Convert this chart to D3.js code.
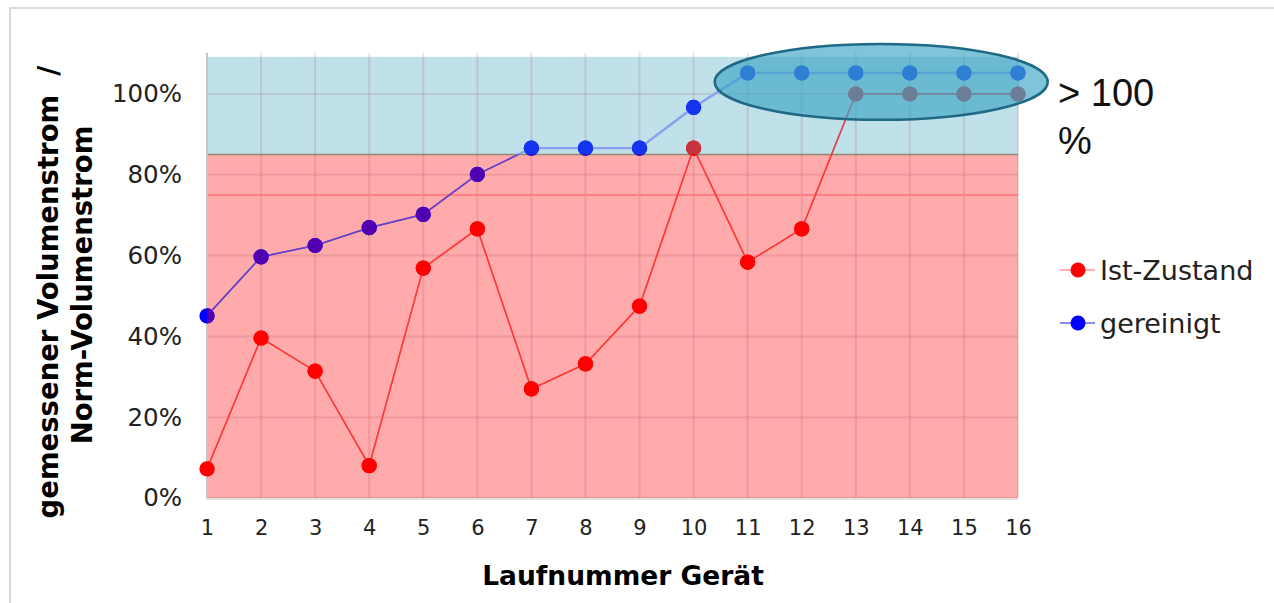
<!DOCTYPE html>
<html><head><meta charset="utf-8">
<script src="https://cdn.jsdelivr.net/npm/d3@7"></script>
<style>body{margin:0;background:#fff}svg{display:block}</style>
</head><body><svg id="c" width="1274" height="603"></svg>
<script>
// ---- data ----
const categories = [1,2,3,4,5,6,7,8,9,10,11,12,13,14,15,16];
const istZustand = [0.072,0.396,0.314,0.080,0.569,0.666,0.270,0.332,0.475,0.866,0.584,0.666,1.0,1.0,1.0,1.0];
const gereinigt  = [0.451,0.597,0.625,0.669,0.702,0.801,0.866,0.866,0.866,0.967,1.052,1.052,1.052,1.052,1.052,1.052];
const yTicks = [0,0.2,0.4,0.6,0.8,1.0];
const seriesNames = ["Ist-Zustand","gereinigt"];
const zoneTop = 1.092;      // top of plot area
const zoneTarget = 0.85;    // boundary between red and blue zones
const zoneLine = 0.75;      // red reference line
const ellipseCenter = [13.47, 1.03];
const ellipseRadius = [3.08, 0.094];
const noteLines = ["> 100", "%"];
const xTitle = "Laufnummer Gerät";
const yTitleLines = ["gemessener Volumenstrom  /", "Norm-Volumenstrom"];

// ---- layout ----
const svg = d3.select("#c");
const x = d3.scaleLinear().domain([1,16]).range([207,1018]);
const y = d3.scaleLinear().domain([0,1]).range([498,94]);
const X0 = x(1), X1 = x(16), Y0 = y(0), YT = y(zoneTop), YB = y(zoneTarget);
const FONT = "DejaVu Sans, Verdana, sans-serif";

// outer frame
svg.append("path").attr("d","M10,603V8H1274").attr("fill","none").attr("stroke","#d9d9d9").attr("stroke-width",2);

// zones
svg.append("rect").attr("x",X0).attr("y",YT).attr("width",X1-X0).attr("height",YB-YT).attr("fill","#c0e0ea");
svg.append("rect").attr("x",X0).attr("y",YB).attr("width",X1-X0).attr("height",Y0-YB).attr("fill","#ffaaab");

// grid
const grid = svg.append("g").attr("stroke","rgba(150,70,80,0.16)").attr("stroke-width",2);
grid.selectAll("line.v").data(categories).join("line")
  .attr("x1",d=>x(d)).attr("x2",d=>x(d)).attr("y1",YT-4).attr("y2",Y0);
grid.selectAll("line.h").data(yTicks).join("line")
  .attr("x1",X0).attr("x2",X1).attr("y1",d=>y(d)).attr("y2",d=>y(d));
// reference line and zone boundary
svg.append("line").attr("x1",X0).attr("x2",X1).attr("y1",y(zoneLine)).attr("y2",y(zoneLine))
  .attr("stroke","#ff8083").attr("stroke-width",2);
svg.append("line").attr("x1",X0).attr("x2",X1).attr("y1",YB).attr("y2",YB)
  .attr("stroke","#8f8a72").attr("stroke-width",1.5);
// plot edges
svg.append("line").attr("x1",X0).attr("x2",X0).attr("y1",YT-4).attr("y2",Y0+1).attr("stroke","#c6c6c6").attr("stroke-width",2);
svg.append("line").attr("x1",X0).attr("x2",X1).attr("y1",Y0+1).attr("y2",Y0+1).attr("stroke","#dcdcdc").attr("stroke-width",1.5);

// clip paths
const defs = svg.append("defs");
defs.append("clipPath").attr("id","clipBlue").append("rect")
  .attr("x",X0).attr("y",0).attr("width",X1-X0+20).attr("height",YB);
defs.append("clipPath").attr("id","clipRed").append("rect")
  .attr("x",X0).attr("y",YB).attr("width",X1-X0+20).attr("height",Y0-YB+20);

const line = d3.line().x((d,i)=>x(categories[i])).y(d=>y(d));
function drawSeries(g, data, lc, lw, dc){
  g.append("path").attr("d",line(data)).attr("fill","none").attr("stroke",lc).attr("stroke-width",lw);
  g.selectAll("circle").data(data).join("circle")
    .attr("cx",(d,i)=>x(categories[i])).attr("cy",d=>y(d)).attr("r",7.6).attr("fill",dc);
}
// base layer
const base = svg.append("g");
drawSeries(base.append("g"), gereinigt, "#4060ff", 1.5, "#0000ff");
drawSeries(base.append("g"), istZustand, "#ff3030", 1.4, "#ff0000");
// blue zone tint
const bz = svg.append("g").attr("clip-path","url(#clipBlue)");
drawSeries(bz.append("g"), gereinigt, "#8aa0f0", 2.4, "#1434ee");
drawSeries(bz.append("g"), istZustand, "#d84a5a", 1.5, "#c8323e");
// red zone tint
const rz = svg.append("g").attr("clip-path","url(#clipRed)");
drawSeries(rz.append("g"), gereinigt, "#7040c0", 1.6, "#5000b0");
drawSeries(rz.append("g"), istZustand, "#ff3c3c", 1.4, "#ff0000");

// highlight ellipse
svg.append("ellipse")
  .attr("cx",x(ellipseCenter[0])).attr("cy",y(ellipseCenter[1]))
  .attr("rx",x(ellipseCenter[0]+ellipseRadius[0])-x(ellipseCenter[0]))
  .attr("ry",y(ellipseCenter[1]-ellipseRadius[1])-y(ellipseCenter[1]))
  .attr("fill","rgba(60,165,198,0.66)").attr("stroke","#1f6987").attr("stroke-width",2.5);

// note
svg.append("g").selectAll("text").data(noteLines).join("text")
  .attr("x",1058).attr("y",(d,i)=>106+i*48)
  .attr("font-family","Liberation Sans, Arial, sans-serif").attr("font-size",38).attr("fill","#111")
  .text(d=>d);

// axes
const xAxis = svg.append("g").attr("transform",`translate(0,${Y0})`)
  .call(d3.axisBottom(x).tickValues(categories).tickSize(0).tickPadding(22).tickFormat(d3.format("d")));
xAxis.select(".domain").remove();
xAxis.selectAll("text").attr("font-family",FONT).attr("font-size",21).attr("fill","#222");

const yAxis = svg.append("g").attr("transform",`translate(${X0},0)`)
  .call(d3.axisLeft(y).tickValues(yTicks).tickSize(0).tickPadding(25).tickFormat(d3.format(".0%")));
yAxis.select(".domain").remove();
yAxis.selectAll("text").attr("font-family",FONT).attr("font-size",24.5).attr("fill","#222");

// titles
svg.append("text").attr("x",623).attr("y",585).attr("text-anchor","middle")
  .attr("font-family",FONT).attr("font-weight","bold").attr("font-size",26.5)
  .attr("fill","#000").text(xTitle);
svg.append("g").selectAll("text").data(yTitleLines).join("text")
  .attr("transform",(d,i)=>`translate(${58+i*34},${292 - i*7}) rotate(-90)`)
  .attr("text-anchor","middle")
  .attr("font-family",FONT).attr("font-weight","bold").attr("font-size",27.5)
  .attr("fill","#000").text(d=>d).style("white-space","pre");

// legend
const legCol = [{lc:"#ffb0b0", dc:"#ff0000"},{lc:"#8a8af0", dc:"#0000ff"}];
const leg = svg.append("g").selectAll("g").data(seriesNames).join("g")
  .attr("transform",(d,i)=>`translate(1060,${270+i*53})`);
leg.append("line").attr("x1",0).attr("x2",35).attr("stroke",(d,i)=>legCol[i].lc).attr("stroke-width",2);
leg.append("circle").attr("cx",18).attr("r",7.5).attr("fill",(d,i)=>legCol[i].dc);
leg.append("text").attr("x",40).attr("y",9.5)
  .attr("font-family",FONT).attr("font-size",27).attr("fill","#222").text(d=>d);
</script></body></html>
